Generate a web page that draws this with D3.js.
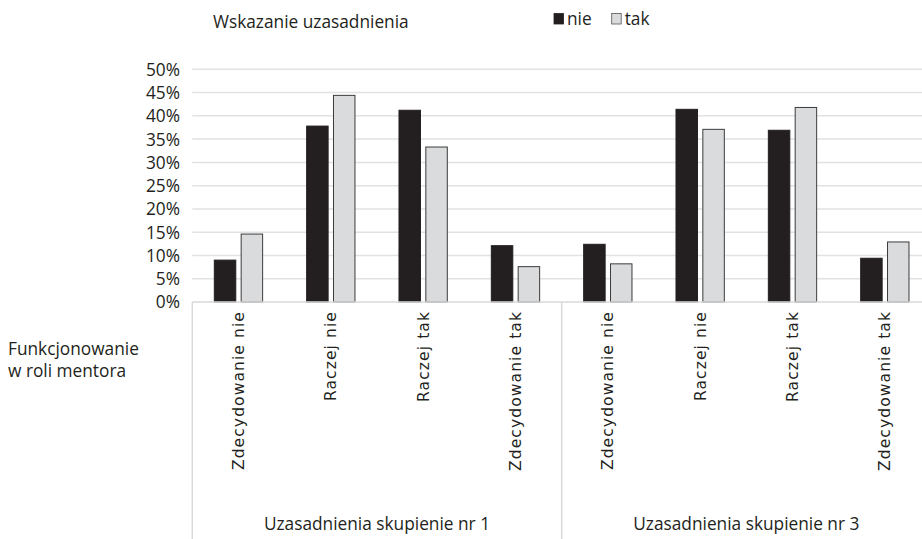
<!DOCTYPE html>
<html>
<head>
<meta charset="utf-8">
<script src="https://cdn.jsdelivr.net/npm/d3@7"></script>
<style>
  html, body { margin: 0; padding: 0; background: #fff; }
  svg { display: block; }
  .lbl { font-family: "Open Sans", Lato, sans-serif; fill: #231f20; }
  .cat { font-family: "DejaVu Sans", Verdana, sans-serif; fill: #231f20; }
</style>
</head>
<body>
<svg id="chart" width="922" height="539"></svg>
<script>
// Data: share of answers (%) by cluster, category and series
const groups = ["Uzasadnienia skupienie nr 1", "Uzasadnienia skupienie nr 3"];
const categories = ["Zdecydowanie nie", "Raczej nie", "Raczej tak", "Zdecydowanie tak"];
const seriesNames = ["nie", "tak"];
const nieValues = [9.0, 37.8, 41.2, 12.1, 12.4, 41.4, 36.9, 9.4];
const takValues = [14.6, 44.4, 33.3, 7.6, 8.2, 37.1, 41.8, 12.9];
const yTicks = [0, 5, 10, 15, 20, 25, 30, 35, 40, 45, 50];
const legendTitle = "Wskazanie uzasadnienia";
const rowTitle = ["Funkcjonowanie", "w roli mentora"];

const colors = { nie: "#231f20", tak: "#dadbdc" };
const fontSize = 17.3;

const svg = d3.select("#chart");

const plotLeft = 192.3, plotRight = 931, plotTop = 69.3, plotBottom = 302;

const x0 = d3.scaleBand().domain(groups).range([plotLeft, plotRight]).padding(0);
const x1 = d3.scaleBand().domain(categories).range([0, x0.bandwidth()]).padding(0);
const x2 = d3.scaleBand().domain(seriesNames).range([0, x1.bandwidth()])
  .paddingInner(0.2).paddingOuter(0.82);
const y = d3.scaleLinear().domain([0, 50]).range([plotBottom, plotTop]);

// Rows for drawing
const rows = [];
groups.forEach((g, gi) => {
  categories.forEach((c, ci) => {
    const i = gi * categories.length + ci;
    rows.push({ group: g, cat: c, series: "nie", value: nieValues[i] });
    rows.push({ group: g, cat: c, series: "tak", value: takValues[i] });
  });
});

// Value axis labels
const yAxis = d3.axisLeft(y).tickValues(yTicks).tickSize(0).tickPadding(12)
  .tickFormat(d => d + "%");
const yg = svg.append("g").attr("transform", `translate(${plotLeft},0)`).call(yAxis);
yg.select(".domain").remove();
yg.attr("font-family", null).attr("font-size", null);
yg.selectAll("text").attr("class", "lbl").attr("font-size", fontSize)
  .attr("fill", "#231f20").attr("dy", "0.34em").attr("x", 180 - plotLeft)
  .attr("text-anchor", "end");

// Gridlines
svg.append("g").selectAll("line")
  .data(yTicks.filter(d => d > 0))
  .join("line")
  .attr("x1", plotLeft).attr("x2", plotRight)
  .attr("y1", d => y(d)).attr("y2", d => y(d))
  .attr("stroke", "#e2e2e2").attr("stroke-width", 1.5);

// Bars
svg.append("g").selectAll("rect")
  .data(rows)
  .join("rect")
  .attr("x", d => x0(d.group) + x1(d.cat) + x2(d.series))
  .attr("width", x2.bandwidth())
  .attr("y", d => y(d.value))
  .attr("height", d => y(0) - y(d.value))
  .attr("fill", d => colors[d.series])
  .attr("stroke", d => d.series === "tak" ? "#3c3c3c" : "#231f20")
  .attr("stroke-width", 1);

// Category axis line and group separators
svg.append("line")
  .attr("x1", plotLeft).attr("x2", plotRight)
  .attr("y1", plotBottom).attr("y2", plotBottom)
  .attr("stroke", "#d9d9d9").attr("stroke-width", 1.5);

const seps = groups.map(g => x0(g)).concat([plotRight]);
svg.append("g").selectAll("line")
  .data(seps)
  .join("line")
  .attr("x1", d => d).attr("x2", d => d)
  .attr("y1", plotBottom).attr("y2", 539)
  .attr("stroke", "#d9d9d9").attr("stroke-width", 1.5);

// Rotated category labels
svg.append("g").selectAll("text")
  .data(rows.filter(r => r.series === "nie"))
  .join("text")
  .attr("class", "cat")
  .attr("font-size", 15.5)
  .attr("letter-spacing", 1.1)
  .attr("text-anchor", "end")
  .attr("transform", d => {
    const cx = x0(d.group) + x1(d.cat) + x1.bandwidth() / 2;
    return `translate(${cx},311) rotate(-90)`;
  })
  .attr("dy", "0.35em")
  .text(d => d.cat);

// Group labels
svg.append("g").selectAll("text")
  .data(groups)
  .join("text")
  .attr("class", "lbl")
  .attr("font-size", fontSize)
  .attr("text-anchor", "middle")
  .attr("x", d => x0(d) + x0.bandwidth() / 2)
  .attr("y", 530)
  .text(d => d);

// Row title
svg.append("text").attr("class", "lbl").attr("font-size", fontSize)
  .selectAll("tspan").data(rowTitle).join("tspan")
  .attr("x", 8).attr("y", (d, i) => 355 + i * 21.7)
  .text(d => d);

// Legend title
svg.append("text").attr("class", "lbl").attr("font-size", fontSize)
  .attr("x", 213).attr("y", 28).text(legendTitle);

// Legend
const legendX = { nie: 554, tak: 611.7 };
const lg = svg.append("g").selectAll("g").data(seriesNames).join("g")
  .attr("transform", d => `translate(${legendX[d]},13.5)`);
lg.append("rect").attr("width", 9.5).attr("height", 10.5)
  .attr("fill", d => colors[d])
  .attr("stroke", d => d === "tak" ? "#555" : "#231f20").attr("stroke-width", 0.8);
lg.append("text").attr("class", "lbl").attr("font-size", fontSize)
  .attr("x", 13).attr("y", 11).text(d => d);
</script>
</body>
</html>
